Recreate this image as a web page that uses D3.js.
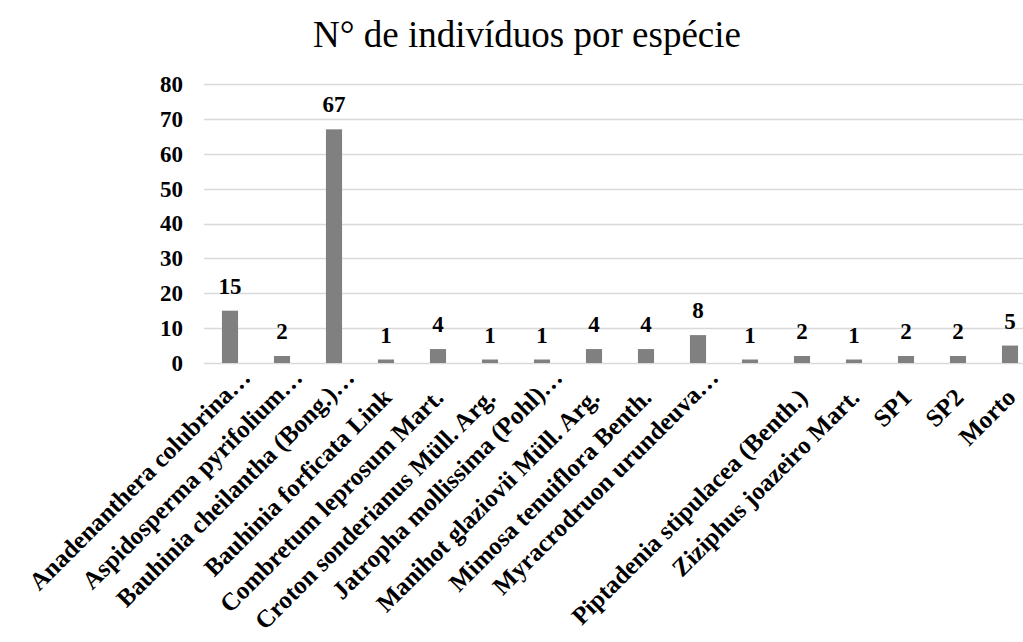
<!DOCTYPE html>
<html>
  <head>
    <meta charset="utf-8" />
    <title>N° de indivíduos por espécie</title>
    <style>
      body {
        margin: 0;
        background: #fff;
      }
      svg text {
        font-family: "Times New Roman", "Liberation Serif", Times, serif;
      }
    </style>
    <script src="https://d3js.org/d3.v7.min.js"></script>
  </head>
  <body>
    <div id="chart"></div>
    <script>
      // species labels (one is blank in the original chart)
      var species = [
        "Anadenanthera colubrina…",
        "Aspidosperma pyrifolium…",
        "Bauhinia cheilantha (Bong.)…",
        "Bauhinia forficata Link",
        "Combretum leprosum Mart.",
        "Croton sonderianus Müll. Arg.",
        "Jatropha mollissima (Pohl)…",
        "Manihot glaziovii Müll. Arg.",
        "Mimosa tenuiflora Benth.",
        "Myracrodruon urundeuva…",
        "",
        "Piptadenia stipulacea (Benth.)",
        "Ziziphus joazeiro Mart.",
        "SP1",
        "SP2",
        "Morto"
      ];
      var counts = [15, 2, 67, 1, 4, 1, 1, 4, 4, 8, 1, 2, 1, 2, 2, 5];
      var yTicks = [0, 10, 20, 30, 40, 50, 60, 70, 80];

      var width = 1023, height = 642;
      var margin = {top: 84, left: 204, bottom: 279};
      var plotW = 832; // last band runs past the right edge, as in the original
      var plotBottom = height - margin.bottom;

      var svg = d3.select("#chart")
        .append("svg")
        .attr("width", width)
        .attr("height", height);

      var x = d3.scaleBand()
        .domain(d3.range(species.length))
        .range([margin.left, margin.left + plotW])
        .paddingInner(0.69)
        .paddingOuter(0.345);

      var y = d3.scaleLinear()
        .domain([0, 80])
        .range([plotBottom, margin.top]);

      // title
      svg.append("text")
        .attr("x", 527)
        .attr("y", 47)
        .attr("text-anchor", "middle")
        .style("font-size", "37px")
        .text("N° de indivíduos por espécie");

      // gridlines
      svg.append("g")
        .selectAll("line")
        .data(yTicks)
        .enter()
        .append("line")
        .attr("x1", margin.left)
        .attr("x2", margin.left + plotW)
        .attr("y1", function(d) { return Math.round(y(d)) + 0.5; })
        .attr("y2", function(d) { return Math.round(y(d)) + 0.5; })
        .attr("stroke", "#d9d9d9")
        .attr("stroke-width", 1.5);

      // y axis labels
      var yAxis = d3.axisLeft(y).tickValues(yTicks).tickSize(0).tickPadding(21);
      svg.append("g")
        .attr("transform", "translate(" + margin.left + ",0)")
        .call(yAxis)
        .call(function(g) { g.select(".domain").remove(); })
        .selectAll("text")
        .style("font-size", "23px")
        .style("font-weight", "bold")
        .attr("fill", "#000");

      // bars
      svg.append("g")
        .selectAll("rect")
        .data(counts)
        .enter()
        .append("rect")
        .attr("x", function(d, i) { return x(i); })
        .attr("y", function(d) { return y(d); })
        .attr("width", x.bandwidth())
        .attr("height", function(d) { return y(0) - y(d); })
        .attr("fill", "#808080");

      // value labels
      svg.append("g")
        .selectAll("text")
        .data(counts)
        .enter()
        .append("text")
        .attr("x", function(d, i) { return x(i) + x.bandwidth() / 2; })
        .attr("y", function(d) { return y(d) - 17; })
        .attr("text-anchor", "middle")
        .style("font-size", "23px")
        .style("font-weight", "bold")
        .text(function(d) { return d; });

      // rotated category labels; truncated ones sit a little further up the diagonal
      svg.append("g")
        .selectAll("text")
        .data(species)
        .enter()
        .append("text")
        .attr("transform", function(d, i) {
          var cx = x(i) + x.bandwidth() / 2;
          var cut = d.slice(-1) === "…";
          var px = cut ? cx + 22 : cx + 7;
          var py = cut ? plotBottom + 16 : plotBottom + 36;
          return "translate(" + px + "," + py + ") rotate(-45)";
        })
        .attr("text-anchor", "end")
        .style("font-size", "25px")
        .style("font-weight", "bold")
        .text(function(d) { return d; });
    </script>
  </body>
</html>
